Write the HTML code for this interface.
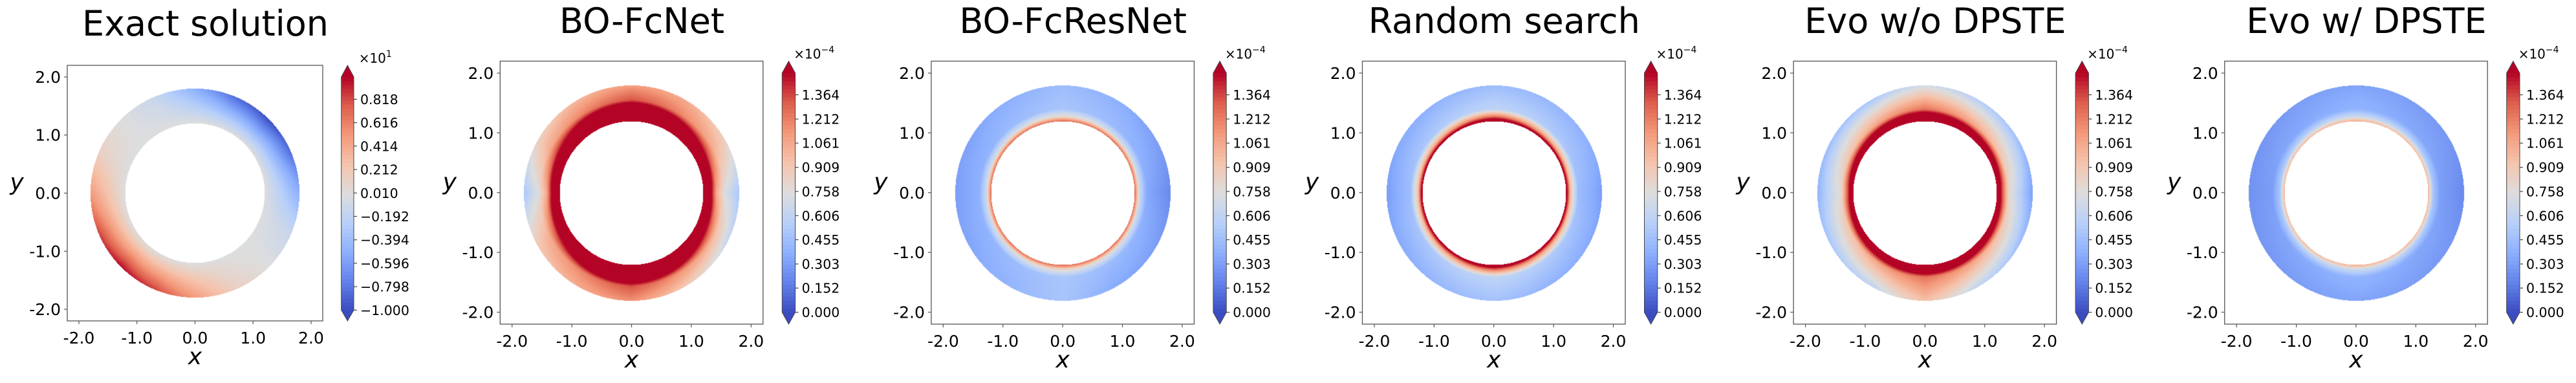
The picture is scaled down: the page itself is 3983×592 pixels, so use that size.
<!DOCTYPE html>
<html><head><meta charset="utf-8">
<style>
html,body{margin:0;padding:0;background:#fff;}
#root{position:relative;width:3983px;height:592px;overflow:hidden;background:#fff;}
canvas{position:absolute;}
svg{position:absolute;left:0;top:0;}
text{font-family:"DejaVu Sans","Liberation Sans",sans-serif;fill:#000;}
</style></head>
<body>
<div id="root">
<svg id="svg" width="3983" height="592"></svg>
</div>
<script>
// ---- data ----
const titles = ["Exact solution","BO-FcNet","BO-FcResNet","Random search","Evo w/o DPSTE","Evo w/ DPSTE"];
const axisTicks = [-2.0,-1.0,0.0,1.0,2.0];
const axisTickLabels = ["-2.0","-1.0","0.0","1.0","2.0"];
const exactCbarTicks = [-1.000,-0.798,-0.596,-0.394,-0.192,0.010,0.212,0.414,0.616,0.818];
const errCbarTicks = [0.000,0.152,0.303,0.455,0.606,0.758,0.909,1.061,1.212,1.364];
const exactRange = [-1.0,1.01];
const errRange = [0.0,1.5];
const innerR = 1.2, outerR = 1.8;
const exactAngles = [0,22.5,45,67.5,90,112.5,135,157.5,180,202.5,225,247.5,270,292.5,315,337.5];
const exactRadii = [1.2,1.8];
const exactInner = [0,0,0,0,0,0,0,0,0,0,0,0,0,0,0,0];
const exactOuter = [-0.5,-0.85,-1.0,-0.85,-0.5,-0.15,0.0,0.15,0.5,0.85,1.0,0.85,0.5,0.15,0.0,-0.15];
const errAngles = [0,30,60,90,120,150,180,210,240,270,300,330];
const errRadii = [1.2,1.28,1.4,1.8];
// BO-FcNet (4 radial levels + per-panel radii)
const fcnetRadii = [1.2,1.3,1.42,1.55,1.8];
const fcnetR0 = [2,2,2,2,2,2,2,2,2,2,2,2];
const fcnetR1 = [1.7,1.9,2,2,2,1.9,1.7,1.9,2,2,2,1.9];
const fcnetR2 = [1.05,1.4,1.7,1.9,1.7,1.4,1.05,1.4,1.7,1.9,1.7,1.4];
const fcnetR3 = [0.75,1.05,1.2,1.35,1.2,1.05,0.75,1.05,1.2,1.35,1.15,1.0];
const fcnetR4 = [0.5,0.85,1.05,1.1,1.0,0.85,0.5,0.9,1.05,1.15,0.9,0.65];
// BO-FcResNet
const resR0 = [1.3,1.3,1.3,1.3,1.3,1.3,1.3,1.3,1.3,1.3,1.3,1.3];
const resR1 = [0.65,0.7,0.75,0.8,0.75,0.7,0.65,0.7,0.75,0.8,0.75,0.7];
const resR2 = [0.35,0.4,0.45,0.5,0.45,0.4,0.38,0.4,0.45,0.5,0.45,0.4];
const resR3 = [0.22,0.3,0.38,0.45,0.38,0.32,0.3,0.33,0.4,0.5,0.35,0.3];
// Random search
const rsR0 = [1.7,1.7,1.7,1.8,1.7,1.7,1.7,1.7,1.7,1.8,1.7,1.7];
const rsR1 = [0.9,1.0,1.1,1.25,1.1,1.0,0.9,1.0,1.1,1.25,1.1,1.0];
const rsR2 = [0.45,0.5,0.55,0.6,0.55,0.5,0.45,0.5,0.55,0.6,0.55,0.5];
const rsR3 = [0.3,0.38,0.42,0.45,0.4,0.35,0.3,0.35,0.42,0.48,0.4,0.35];
// Evo w/o DPSTE
const evoR0 = [2,2,2,2,2,2,2,2,2,2,2,2];
const evoR1 = [1.4,1.6,1.75,1.9,1.75,1.6,1.4,1.6,1.75,1.9,1.75,1.6];
const evoR2 = [0.8,0.95,1.1,1.25,1.1,0.95,0.8,0.95,1.1,1.25,1.1,0.95];
const evoR3 = [0.3,0.45,0.55,0.7,0.5,0.45,0.4,0.5,0.6,0.95,0.6,0.45];
// Evo w/ DPSTE
const dpR0 = [1.0,1.0,1.0,1.05,1.0,1.0,1.0,1.0,1.0,1.05,1.0,1.0];
const dpR1 = [0.5,0.55,0.6,0.65,0.6,0.55,0.5,0.55,0.6,0.65,0.6,0.55];
const dpR2 = [0.3,0.33,0.36,0.4,0.36,0.33,0.3,0.33,0.36,0.4,0.36,0.33];
const dpR3 = [0.22,0.27,0.3,0.33,0.3,0.27,0.25,0.27,0.3,0.33,0.3,0.27];

// ---- colormap (coolwarm) ----
const cmStops=[[59,76,192],[98,130,234],[141,176,254],[184,208,249],[221,221,221],[245,196,173],[244,154,123],[222,96,77],[180,4,38]];
function cmap(t){ t=Math.max(0,Math.min(1,t)); const f=t*8; const i=Math.min(7,Math.floor(f)); const u=f-i;
  const a=cmStops[i],b=cmStops[i+1]; return [a[0]+(b[0]-a[0])*u,a[1]+(b[1]-a[1])*u,a[2]+(b[2]-a[2])*u];}
function rgb(c){return `rgb(${Math.round(c[0])},${Math.round(c[1])},${Math.round(c[2])})`;}

// ---- layout ----
const panels=[];
panels.push({x:104,y:101,s:395,cbx:527.7,cbw:19.3,cbTop:119,cbBot:479.3,range:exactRange,ticks:exactCbarTicks,off:"1",offDx:27,
  angles:exactAngles,radii:exactRadii,rings:[exactInner,exactOuter],titleY:55});
const errRings=[[fcnetR0,fcnetR1,fcnetR2,fcnetR3,fcnetR4],[resR0,resR1,resR2,resR3],[rsR0,rsR1,rsR2,rsR3],[evoR0,evoR1,evoR2,evoR3],[dpR0,dpR1,dpR2,dpR3]];
const errRadiiList=[fcnetRadii,errRadii,errRadii,errRadii,errRadii];
for(let i=0;i<5;i++){const bx=773.3+666.6*i;
  panels.push({x:bx,y:94.5,s:406.5,cbx:bx+436,cbw:20.3,cbTop:113,cbBot:482.7,range:errRange,ticks:errCbarTicks,off:"\u22124",offDx:18,
   angles:errAngles,radii:errRadiiList[i],rings:errRings[i],titleY:51});}

const NS="http://www.w3.org/2000/svg";
const svg=document.getElementById('svg');
const root=document.getElementById('root');
function mk(tag,attrs,parent){const e=document.createElementNS(NS,tag);for(const k in attrs)e.setAttribute(k,attrs[k]);(parent||svg).appendChild(e);return e;}

function sampleAng(arr,angles,th){
  const n=angles.length; let j=n-1;
  for(let k=0;k<n;k++){ if(angles[k]<=th) j=k; }
  const a0=angles[j], a1=(j+1<n)?angles[j+1]:360;
  const u=(th-a0)/(a1-a0); const v0=arr[j], v1=arr[(j+1)%n]; return v0+(v1-v0)*u;}

panels.forEach((p,pi)=>{
  const g=mk('g',{});
  
  
  const sx=v=>p.x+(v+2.2)/4.4*p.s, sy=v=>p.y+(2.2-v)/4.4*p.s;
  const cv=document.createElement('canvas');
  const W=Math.round(p.s),H=Math.round(p.s);
  cv.width=W;cv.height=H;cv.style.left=p.x+'px';cv.style.top=p.y+'px';
  
  
  root.insertBefore(cv,svg);
  const ctx=cv.getContext('2d');const img=ctx.createImageData(W,H);
  const [vmin,vmax]=p.range;
  for(let py=0;py<H;py++)for(let px=0;px<W;px++){
    const X=(px+0.5)/W*4.4-2.2, Y=2.2-(py+0.5)/H*4.4; const r=Math.hypot(X,Y);
    if(r<innerR||r>outerR) continue;
    let th=Math.atan2(Y,X)*180/Math.PI; if(th<0) th+=360;
    let k=0; while(k<p.radii.length-2&&r>p.radii[k+1]) k++;
    const u=(r-p.radii[k])/(p.radii[k+1]-p.radii[k]);
    const v0=sampleAng(p.rings[k],p.angles,th), v1=sampleAng(p.rings[k+1],p.angles,th);
    const v=v0+(v1-v0)*u; const c=cmap((v-vmin)/(vmax-vmin));
    const o=(py*W+px)*4; img.data[o]=c[0];img.data[o+1]=c[1];img.data[o+2]=c[2];img.data[o+3]=255;}
  ctx.putImageData(img,0,0);
  const fr=mk('rect',{x:p.x,y:p.y,width:p.s,height:p.s,fill:'none',stroke:'#555','stroke-width':1.3},g);
  
  
  axisTicks.forEach((t,i)=>{
    const X=sx(t);
    mk('line',{x1:X,y1:p.y+p.s,x2:X,y2:p.y+p.s+5,stroke:'#555','stroke-width':1.2},g);
    const tx=mk('text',{x:X,y:p.y+p.s+35,'text-anchor':'middle','font-size':25},g);tx.textContent=axisTickLabels[i];
    
    
    const Y=sy(t);
    mk('line',{x1:p.x-5,y1:Y,x2:p.x,y2:Y,stroke:'#555','stroke-width':1.2},g);
    const ty=mk('text',{x:p.x-10,y:Y+9,'text-anchor':'end','font-size':25},g);ty.textContent=axisTickLabels[i];
    
    
  });
  const xl=mk('text',{x:p.x+p.s/2,y:p.y+p.s+67,'text-anchor':'middle','font-size':36,'font-style':'italic'},g);xl.textContent='x';
  
  
  const yl=mk('text',{x:p.x-78,y:p.y+p.s/2-5,'text-anchor':'middle','font-size':36,'font-style':'italic'},g);yl.textContent='y';
  
  
  const tt=mk('text',{x:p.x+p.s/2+16,y:p.titleY,'text-anchor':'middle','font-size':54},g);tt.textContent=titles[pi];
  
  
  const cb=mk('g',{},g);
  
  
  const N=60, cs=(p.cbBot-p.cbTop)/N;
  for(let i=0;i<N;i++){ mk('rect',{x:p.cbx,y:p.cbBot-(i+1)*cs,width:p.cbw,height:cs+0.6,fill:rgb(cmap((i+0.5)/N))},cb); }
  mk('polygon',{points:`${p.cbx},${p.cbTop} ${p.cbx+p.cbw/2},${p.y} ${p.cbx+p.cbw},${p.cbTop}`,fill:rgb(cmStops[8])},cb);
  mk('polygon',{points:`${p.cbx},${p.cbBot} ${p.cbx+p.cbw/2},${p.y+p.s} ${p.cbx+p.cbw},${p.cbBot}`,fill:rgb(cmStops[0])},cb);
  mk('polygon',{points:`${p.cbx},${p.cbTop} ${p.cbx+p.cbw/2},${p.y} ${p.cbx+p.cbw},${p.cbTop} ${p.cbx+p.cbw},${p.cbBot} ${p.cbx+p.cbw/2},${p.y+p.s} ${p.cbx},${p.cbBot}`,fill:'none',stroke:'#444','stroke-width':1},cb);
  const cy=v=>p.cbBot-(v-p.range[0])/(p.range[1]-p.range[0])*(p.cbBot-p.cbTop);
  p.ticks.forEach(t=>{const Y=cy(t);
    mk('line',{x1:p.cbx+p.cbw,y1:Y,x2:p.cbx+p.cbw+5,y2:Y,stroke:'#444','stroke-width':1.2},cb);
    const l=mk('text',{x:p.cbx+p.cbw+10,y:Y+7.5,'font-size':20.5},cb);
    l.textContent=(t<0?'\u2212':'')+Math.abs(t).toFixed(3);
    
    
  });
  const ot=mk('text',{x:p.cbx+p.offDx,y:p.y-4,'font-size':20},cb);
  ot.textContent='\u00d710';
  const sup=mk('tspan',{dy:-9,'font-size':14},ot);sup.textContent=p.off;
  
  
});
</script>
</body></html>
